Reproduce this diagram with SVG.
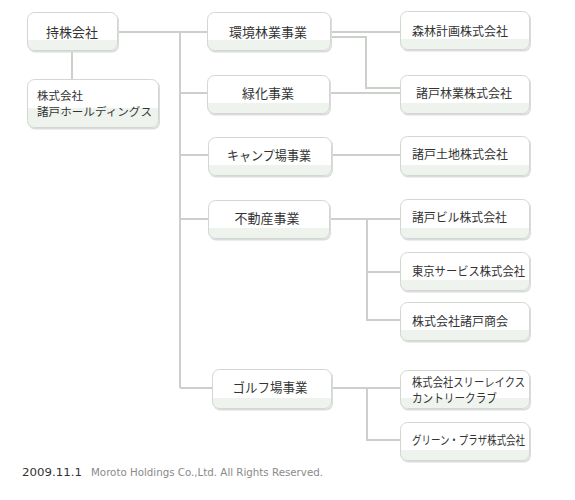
<svg xmlns="http://www.w3.org/2000/svg" width="575" height="500" viewBox="0 0 575 500">
<style>
.sh{fill:#d9dcd9}
.bx{fill:#ffffff}
.bd{fill:#eef3ee}
.ol{fill:none;stroke:#d3d7d3;stroke-width:1}
.t{font-family:"Noto Sans CJK JP","Noto Sans",sans-serif;fill:#333333}
.m{font-size:13px;text-anchor:middle}
.s{font-size:12px}
.h{font-size:11px}
.c path{fill:none;stroke:#cbd0cb;stroke-width:2}
.f{font-family:"DejaVu Sans","Liberation Sans",sans-serif;font-size:10px}
</style>
<rect width="575" height="500" fill="#ffffff"/>
<g class="c" id="connectors">
<path d="M118 32H207"/>
<path d="M180 32V388"/>
<path d="M180 93H207"/>
<path d="M180 155H208"/>
<path d="M180 219H208"/>
<path d="M180 388H212"/>
<path d="M72 51V79"/>
<path d="M331 32H400"/>
<path d="M331 37H366V88H400"/>
<path d="M330 93H400"/>
<path d="M332 155H400"/>
<path d="M330 219H400"/>
<path d="M367 219V320H400"/>
<path d="M367 272H400"/>
<path d="M332 388H400"/>
<path d="M367 388V440H400"/>
</g>
<g id="n1">
<rect class="sh" x="28" y="13.5" width="91" height="39" rx="7"/>
<rect class="bx" x="27" y="12" width="91" height="39" rx="7"/>
<path class="bd" d="M27 40H118V44A7 7 0 0 1 111 51H34A7 7 0 0 1 27 44Z"/>
<rect class="ol" x="27.5" y="12.5" width="90" height="38" rx="7"/>
<text class="t m" x="72" y="37">持株会社</text>
</g>
<g id="n2">
<rect class="sh" x="28" y="80.5" width="132" height="49" rx="7"/>
<rect class="bx" x="27" y="79" width="132" height="49" rx="7"/>
<path class="bd" d="M27 108H159V121A7 7 0 0 1 152 128H34A7 7 0 0 1 27 121Z"/>
<rect class="ol" x="27.5" y="79.5" width="131" height="48" rx="7"/>
<text class="t h" x="37" y="100" textLength="46" lengthAdjust="spacingAndGlyphs">株式会社</text>
<text class="t h" x="37" y="116" textLength="115" lengthAdjust="spacingAndGlyphs">諸戸ホールディングス</text>
</g>
<g id="n3">
<rect class="sh" x="208" y="13.5" width="124" height="39" rx="7"/>
<rect class="bx" x="207" y="12" width="124" height="39" rx="7"/>
<path class="bd" d="M207 40H331V44A7 7 0 0 1 324 51H214A7 7 0 0 1 207 44Z"/>
<rect class="ol" x="207.5" y="12.5" width="123" height="38" rx="7"/>
<text class="t m" x="268" y="37">環境林業事業</text>
</g>
<g id="n4">
<rect class="sh" x="208" y="76.5" width="123" height="39" rx="7"/>
<rect class="bx" x="207" y="75" width="123" height="39" rx="7"/>
<path class="bd" d="M207 103H330V107A7 7 0 0 1 323 114H214A7 7 0 0 1 207 107Z"/>
<rect class="ol" x="207.5" y="75.5" width="122" height="38" rx="7"/>
<text class="t m" x="268" y="98">緑化事業</text>
</g>
<g id="n5">
<rect class="sh" x="209" y="138.5" width="124" height="39" rx="7"/>
<rect class="bx" x="208" y="137" width="124" height="39" rx="7"/>
<path class="bd" d="M208 165H332V169A7 7 0 0 1 325 176H215A7 7 0 0 1 208 169Z"/>
<rect class="ol" x="208.5" y="137.5" width="123" height="38" rx="7"/>
<text class="t m" x="269" y="160" textLength="84" lengthAdjust="spacingAndGlyphs">キャンプ場事業</text>
</g>
<g id="n6">
<rect class="sh" x="209" y="201.5" width="122" height="39" rx="7"/>
<rect class="bx" x="208" y="200" width="122" height="39" rx="7"/>
<path class="bd" d="M208 228H330V232A7 7 0 0 1 323 239H215A7 7 0 0 1 208 232Z"/>
<rect class="ol" x="208.5" y="200.5" width="121" height="38" rx="7"/>
<text class="t m" x="267" y="223">不動産事業</text>
</g>
<g id="n7">
<rect class="sh" x="213" y="370.5" width="120" height="40" rx="7"/>
<rect class="bx" x="212" y="369" width="120" height="40" rx="7"/>
<path class="bd" d="M212 398H332V402A7 7 0 0 1 325 409H219A7 7 0 0 1 212 402Z"/>
<rect class="ol" x="212.5" y="369.5" width="119" height="39" rx="7"/>
<text class="t m" x="270" y="392" textLength="75" lengthAdjust="spacingAndGlyphs">ゴルフ場事業</text>
</g>
<g id="n8">
<rect class="sh" x="401" y="12.5" width="130" height="39" rx="7"/>
<rect class="bx" x="400" y="11" width="130" height="39" rx="7"/>
<path class="bd" d="M400 39H530V43A7 7 0 0 1 523 50H407A7 7 0 0 1 400 43Z"/>
<rect class="ol" x="400.5" y="11.5" width="129" height="38" rx="7"/>
<text class="t s" x="412" y="36">森林計画株式会社</text>
</g>
<g id="n9">
<rect class="sh" x="401" y="76.5" width="130" height="39" rx="7"/>
<rect class="bx" x="400" y="75" width="130" height="39" rx="7"/>
<path class="bd" d="M400 103H530V107A7 7 0 0 1 523 114H407A7 7 0 0 1 400 107Z"/>
<rect class="ol" x="400.5" y="75.5" width="129" height="38" rx="7"/>
<text class="t s" x="416" y="98">諸戸林業株式会社</text>
</g>
<g id="n10">
<rect class="sh" x="401" y="137.5" width="130" height="40" rx="7"/>
<rect class="bx" x="400" y="136" width="130" height="40" rx="7"/>
<path class="bd" d="M400 165H530V169A7 7 0 0 1 523 176H407A7 7 0 0 1 400 169Z"/>
<rect class="ol" x="400.5" y="136.5" width="129" height="39" rx="7"/>
<text class="t s" x="412" y="159">諸戸土地株式会社</text>
</g>
<g id="n11">
<rect class="sh" x="401" y="200.5" width="130" height="40" rx="7"/>
<rect class="bx" x="400" y="199" width="130" height="40" rx="7"/>
<path class="bd" d="M400 228H530V232A7 7 0 0 1 523 239H407A7 7 0 0 1 400 232Z"/>
<rect class="ol" x="400.5" y="199.5" width="129" height="39" rx="7"/>
<text class="t s" x="412" y="222" textLength="95" lengthAdjust="spacingAndGlyphs">諸戸ビル株式会社</text>
</g>
<g id="n12">
<rect class="sh" x="401" y="253.5" width="130" height="39" rx="7"/>
<rect class="bx" x="400" y="252" width="130" height="39" rx="7"/>
<path class="bd" d="M400 280H530V284A7 7 0 0 1 523 291H407A7 7 0 0 1 400 284Z"/>
<rect class="ol" x="400.5" y="252.5" width="129" height="38" rx="7"/>
<text class="t s" x="412" y="276" textLength="113" lengthAdjust="spacingAndGlyphs">東京サービス株式会社</text>
</g>
<g id="n13">
<rect class="sh" x="401" y="303.5" width="130" height="39" rx="7"/>
<rect class="bx" x="400" y="302" width="130" height="39" rx="7"/>
<path class="bd" d="M400 330H530V334A7 7 0 0 1 523 341H407A7 7 0 0 1 400 334Z"/>
<rect class="ol" x="400.5" y="302.5" width="129" height="38" rx="7"/>
<text class="t s" x="412" y="326">株式会社諸戸商会</text>
</g>
<g id="n14">
<rect class="sh" x="401" y="371.5" width="130" height="39" rx="7"/>
<rect class="bx" x="400" y="370" width="130" height="39" rx="7"/>
<path class="bd" d="M400 398H530V402A7 7 0 0 1 523 409H407A7 7 0 0 1 400 402Z"/>
<rect class="ol" x="400.5" y="370.5" width="129" height="38" rx="7"/>
<text class="t s" x="412" y="387" textLength="113" lengthAdjust="spacingAndGlyphs">株式会社スリーレイクス</text>
<text class="t s" x="412" y="403" textLength="85" lengthAdjust="spacingAndGlyphs">カントリークラブ</text>
</g>
<g id="n15">
<rect class="sh" x="401" y="423.5" width="130" height="39" rx="7"/>
<rect class="bx" x="400" y="422" width="130" height="39" rx="7"/>
<path class="bd" d="M400 450H530V454A7 7 0 0 1 523 461H407A7 7 0 0 1 400 454Z"/>
<rect class="ol" x="400.5" y="422.5" width="129" height="38" rx="7"/>
<text class="t s" x="412" y="445" textLength="113" lengthAdjust="spacingAndGlyphs">グリーン・プラザ株式会社</text>
</g>
<g id="footer">
<text class="f" x="22" y="476" fill="#333333" textLength="60" lengthAdjust="spacingAndGlyphs">2009.11.1</text>
<text class="f" x="91" y="476" fill="#8a8a8a" textLength="232" lengthAdjust="spacingAndGlyphs">Moroto Holdings Co.,Ltd. All Rights Reserved.</text>
</g>
</svg>
